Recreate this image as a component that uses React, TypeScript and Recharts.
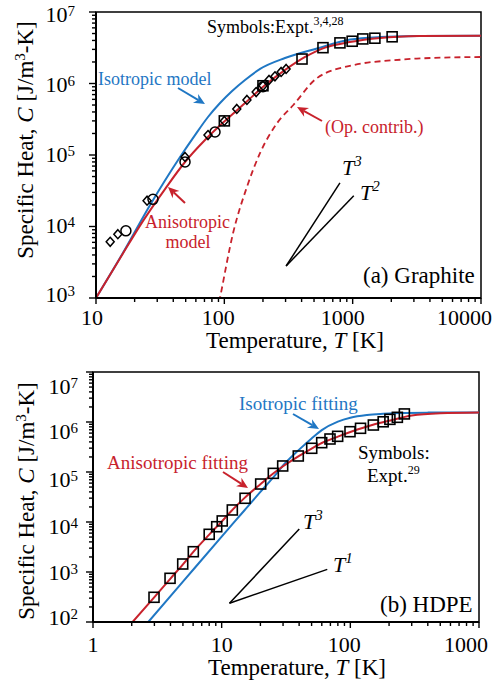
import React from 'react';
import { ComposedChart, Line, Scatter, XAxis, YAxis, ReferenceLine, ReferenceArea } from 'recharts';

const BLUE = '#1f77c4';
const RED = '#c8222c';
const SERIF = '"Liberation Serif", "Times New Roman", serif';

// ---- (a) Graphite ----
const grIsoT = [10, 16.2, 26.4, 45.2, 59.1, 74.6, 92.6, 115, 145, 190, 297, 528, 955, 1640, 3340, 10000];
const grIsoC = [1e3, 4.26e3, 2.0e4, 9.38e4, 1.9e5, 3.4e5, 5.33e5, 7.85e5, 1.12e6, 1.6e6, 2.27e6, 3.09e6, 4.12e6, 4.47e6, 4.61e6, 4.67e6];

const grAnisoT = [10, 15.4, 23.2, 34.5, 49.4, 70.7, 101, 145, 208, 298, 426, 609, 950, 1640, 3340, 10000];
const grAnisoC = [1e3, 3.6e3, 1.19e4, 3.34e4, 7.98e4, 1.62e5, 2.99e5, 5.33e5, 9.5e5, 1.55e6, 2.35e6, 3.18e6, 3.8e6, 4.33e6, 4.6e6, 4.67e6];

const grOpticalT = [88, 92.5, 117, 150, 190, 258, 345, 524, 1000, 2350, 3160, 10000];
const grOpticalC = [640, 1e3, 8.1e3, 3.57e4, 1.07e5, 2.8e5, 5.0e5, 1.18e6, 1.8e6, 2.15e6, 2.23e6, 2.35e6];

const grDiamondT = [12.9, 14.8, 25, 49.4, 74.6, 100, 125, 150, 177, 200, 223, 248, 277, 303];
const grDiamondC = [6.1e3, 7.8e3, 2.3e4, 9.4e4, 1.9e5, 3.0e5, 4.4e5, 5.9e5, 7.6e5, 9.3e5, 1.12e6, 1.26e6, 1.45e6, 1.6e6];
const grCircleT = [17.1, 27.8, 49.4, 84.6, 200];
const grCircleC = [8.7e3, 2.4e4, 8.0e4, 2.1e5, 9.0e5];
const grSquareT = [100, 200, 403, 587, 796, 991, 1200, 1490, 2030];
const grSquareC = [3.0e5, 9.3e5, 2.2e6, 3.17e6, 3.7e6, 3.9e6, 4.2e6, 4.3e6, 4.5e6];

// ---- (b) HDPE ----
const peIsoT = [2.69, 5, 10, 15, 20, 25, 30, 40, 50, 60, 80, 100, 135, 180, 250, 400, 1000];
const peIsoC = [100, 640, 5100, 1.7e4, 4.0e4, 7.6e4, 1.35e5, 2.8e5, 4.7e5, 6.9e5, 1.02e6, 1.22e6, 1.38e6, 1.46e6, 1.52e6, 1.54e6, 1.55e6];

const peAnisoT = [2.03, 3, 4, 5, 6, 8, 10, 12, 15, 20, 25, 30, 40, 50, 60, 80, 100, 150, 200, 300, 500, 1000];
const peAnisoC = [100, 315, 740, 1420, 2500, 5600, 1.02e4, 1.7e4, 3.0e4, 5.7e4, 9.2e4, 1.3e5, 2.1e5, 2.95e5, 3.8e5, 5.1e5, 6.3e5, 8.8e5, 1.06e6, 1.35e6, 1.5e6, 1.55e6];

const peExptT = [2.98, 3.97, 4.98, 6.02, 8.0, 9.15, 10.1, 12.1, 15.2, 20.1, 25.2, 29.8, 39.4, 50.1, 59.9, 69.5, 79.7, 99.4, 120, 151, 180, 203, 232, 263];
const peExptC = [312, 748, 1445, 2547, 5675, 8050, 1.05e4, 1.74e4, 2.98e4, 5.75e4, 9.4e4, 1.32e5, 2.09e5, 2.98e5, 3.86e5, 4.57e5, 5.17e5, 6.4e5, 7.48e5, 8.7e5, 1.01e6, 1.13e6, 1.24e6, 1.45e6];

// slope guide lines (T^3 / T^2, T^3 / T^1)
const grSlopeStart = { x: 303, y: 2800 };
const grSlopeEnds = [{ x: 796, y: 40700 }, { x: 1020, y: 27000 }];
const peSlopeStart = { x: 11.5, y: 237 };
const peSlopeEnds = [{ x: 40.1, y: 7240 }, { x: 66.2, y: 1130 }];

// hand-placed label nudges, as in the original figure
const grYLabelNudge = [0, 0, 0, -3, -0.5, 0, 1.5, 3]; // by exponent
const peYLabelNudge = [0, 0, -4, 1, 5, 8, 10, 15];
const grXLabelNudge = [0, -4, -6, -10, 0]; // by exponent
const peXLabelNudge = [0, 0, -6, 0];

const pts = (T: number[], C: number[]) => T.map((t, i) => ({ T: t, C: C[i] }));

function logTicks(lo: number, hi: number) {
  const out: number[] = [];
  for (let d = lo; d < hi; d *= 10) for (let k = 1; k < 10; k++) out.push(d * k);
  out.push(hi);
  return out;
}

const isMajor = (v: number) => {
  const e = Math.round(Math.log10(v));
  return Math.abs(v - 10 ** e) < 1e-6 * v;
};

const XTick = (props: any) => {
  const { x, y, payload, lastValue, lastDx, labelDy, nudge } = props;
  const v = payload.value;
  const major = isMajor(v);
  const isLast = v === lastValue;
  const e = Math.round(Math.log10(v));
  return (
    <g>
      <line x1={x} x2={x} y1={y} y2={y + (major ? 6 : 4)} stroke="#000" strokeWidth={1.4} />
      {major && (
        <text x={isLast ? x + lastDx : x + (nudge[e] || 0)} y={y + labelDy} textAnchor={isLast ? 'end' : 'middle'}
          fontFamily={SERIF} fontSize={22} fill="#000">{v}</text>
      )}
    </g>
  );
};

const YTick = (props: any) => {
  const { x, y, payload, labelDx, nudge } = props;
  const v = payload.value;
  const e = Math.round(Math.log10(v));
  const major = isMajor(v);
  return (
    <g>
      <line x1={x - (major ? 7 : 4)} x2={x} y1={y} y2={y} stroke="#000" strokeWidth={1.4} />
      {major && (
        <text x={x + labelDx} y={y + 7 + (nudge[e] || 0)} textAnchor="end" fontFamily={SERIF} fontSize={22} fill="#000">
          <tspan>10</tspan>
          <tspan dy={-6} fontSize={15}>{e}</tspan>
        </text>
      )}
    </g>
  );
};

const Diamond = (p: any) => (
  <polygon points={`${p.cx},${p.cy - 4.5} ${p.cx + 4},${p.cy} ${p.cx},${p.cy + 4.5} ${p.cx - 4},${p.cy}`}
    fill="none" stroke="#000" strokeWidth={1.5} />
);
const Ring = (p: any) => <circle cx={p.cx} cy={p.cy} r={5} fill="none" stroke="#000" strokeWidth={1.5} />;
const Box = (p: any) => (
  <rect x={p.cx - 5} y={p.cy - 5} width={10} height={10} fill="none" stroke="#000" strokeWidth={1.6} />
);

const Arrow = ({ x1, y1, x2, y2, color }: any) => {
  const a = Math.atan2(y2 - y1, x2 - x1);
  const L = 11, W = 5;
  const c = Math.cos(a), s = Math.sin(a);
  const bx = x2 - L * c, by = y2 - L * s;
  const nx = x2 - L * 0.7 * c, ny = y2 - L * 0.7 * s;
  const head = `${x2},${y2} ${bx + W * s},${by - W * c} ${nx},${ny} ${bx - W * s},${by + W * c}`;
  return (
    <g>
      <line x1={x1} y1={y1} x2={nx} y2={ny} stroke={color} strokeWidth={2} />
      <polygon points={head} fill={color} />
    </g>
  );
};

const axisLine = { stroke: '#000', strokeWidth: 2 };

function GraphiteChart() {
  return (
    <ComposedChart width={500} height={340} margin={{ top: 12, right: 19, bottom: 0, left: 0 }}>
      <XAxis type="number" dataKey="T" scale="log" domain={[10, 10000]} allowDataOverflow
        ticks={logTicks(10, 10000)} interval={0} tickLine={false} tickSize={0} tickMargin={0}
        axisLine={axisLine} height={42}
        tick={(p: any) => <XTick {...p} lastValue={10000} lastDx={11} labelDy={27} nudge={grXLabelNudge} />} />
      <YAxis type="number" dataKey="C" scale="log" domain={[1e3, 1e7]} allowDataOverflow
        ticks={logTicks(1e3, 1e7)} interval={0} tickLine={false} tickSize={0} tickMargin={0}
        axisLine={axisLine} width={96}
        tick={(p: any) => <YTick {...p} labelDx={-21} nudge={grYLabelNudge} />} />
      <ReferenceArea x1={10} x2={10000} y1={1e3} y2={1e7} fill="none" stroke="#000" strokeWidth={1.5} />
      <ReferenceLine segment={[grSlopeStart, grSlopeEnds[0]]} stroke="#000" strokeWidth={1.5} />
      <ReferenceLine segment={[grSlopeStart, grSlopeEnds[1]]} stroke="#000" strokeWidth={1.5} />
      <Line data={pts(grOpticalT, grOpticalC)} dataKey="C" type="monotone" stroke={RED} strokeWidth={1.8}
        strokeDasharray="6 4" dot={false} isAnimationActive={false} />
      <Line data={pts(grIsoT, grIsoC)} dataKey="C" type="monotone" stroke={BLUE} strokeWidth={2}
        dot={false} isAnimationActive={false} />
      <Line data={pts(grAnisoT, grAnisoC)} dataKey="C" type="monotone" stroke={RED} strokeWidth={2}
        dot={false} isAnimationActive={false} />
      <Scatter data={pts(grDiamondT, grDiamondC)} dataKey="C" shape={Diamond} isAnimationActive={false} />
      <Scatter data={pts(grCircleT, grCircleC)} dataKey="C" shape={Ring} isAnimationActive={false} />
      <Scatter data={pts(grSquareT, grSquareC)} dataKey="C" shape={Box} isAnimationActive={false} />
    </ComposedChart>
  );
}

function HdpeChart() {
  return (
    <ComposedChart width={500} height={343} margin={{ top: 32, right: 21, bottom: 0, left: 0 }}>
      <XAxis type="number" dataKey="T" scale="log" domain={[1, 1000]} allowDataOverflow
        ticks={logTicks(1, 1000)} interval={0} tickLine={false} tickSize={0} tickMargin={0}
        axisLine={axisLine} height={61}
        tick={(p: any) => <XTick {...p} lastValue={1000} lastDx={9} labelDy={30} nudge={peXLabelNudge} />} />
      <YAxis type="number" dataKey="C" scale="log" domain={[1e2, 1e7]} allowDataOverflow
        ticks={logTicks(1e2, 1e7)} interval={0} tickLine={false} tickSize={0} tickMargin={0}
        axisLine={axisLine} width={93}
        tick={(p: any) => <YTick {...p} labelDx={-15} nudge={peYLabelNudge} />} />
      <ReferenceArea x1={1} x2={1000} y1={1e2} y2={1e7} fill="none" stroke="#000" strokeWidth={1.5} />
      <ReferenceLine segment={[peSlopeStart, peSlopeEnds[0]]} stroke="#000" strokeWidth={1.5} />
      <ReferenceLine segment={[peSlopeStart, peSlopeEnds[1]]} stroke="#000" strokeWidth={1.5} />
      <Line data={pts(peIsoT, peIsoC)} dataKey="C" type="monotone" stroke={BLUE} strokeWidth={2}
        dot={false} isAnimationActive={false} />
      <Line data={pts(peAnisoT, peAnisoC)} dataKey="C" type="monotone" stroke={RED} strokeWidth={2}
        dot={false} isAnimationActive={false} />
      <Scatter data={pts(peExptT, peExptC)} dataKey="C" shape={Box} isAnimationActive={false} />
    </ComposedChart>
  );
}

function YTitle({ x, y }: { x: number; y: number }) {
  return (
    <text x={x} y={y} transform={`rotate(-90 ${x} ${y})`} textAnchor="middle" fontFamily={SERIF} fontSize={23} fill="#000">
      <tspan>Specific Heat, </tspan>
      <tspan fontStyle="italic">C</tspan>
      <tspan> [J/m</tspan>
      <tspan dy={-8} fontSize={15}>3</tspan>
      <tspan dy={8}>-K]</tspan>
    </text>
  );
}

function XTitle({ x, y }: { x: number; y: number }) {
  return (
    <text x={x} y={y} textAnchor="middle" fontFamily={SERIF} fontSize={23} fill="#000">
      <tspan>Temperature, </tspan>
      <tspan fontStyle="italic">T</tspan>
      <tspan> [K]</tspan>
    </text>
  );
}

function Power({ x, y, n }: { x: number; y: number; n: string }) {
  return (
    <text x={x} y={y} fontFamily={SERIF} fontSize={22} fontStyle="italic" fill="#000">
      <tspan>T</tspan>
      <tspan dy={-9} fontSize={15}>{n}</tspan>
    </text>
  );
}

function Note({ x, y, size, color, children, anchor }: any) {
  return (
    <text x={x} y={y} fontFamily={SERIF} fontSize={size} fill={color || '#000'} textAnchor={anchor || 'start'}>
      {children}
    </text>
  );
}

export default function App() {
  return (
    <div style={{ position: 'absolute', left: 0, top: 0, width: 500, height: 683, background: '#fff' }}>
      <div style={{ position: 'absolute', left: 0, top: 0 }}>
        <GraphiteChart />
      </div>
      <div style={{ position: 'absolute', left: 0, top: 340 }}>
        <HdpeChart />
      </div>
      <svg width={500} height={683} style={{ position: 'absolute', left: 0, top: 0, pointerEvents: 'none' }}>
        {/* panel (a) */}
        <YTitle x={33} y={140} />
        <XTitle x={295} y={348} />
        <Note x={207} y={33} size={18}>
          <tspan>Symbols:Expt.</tspan>
          <tspan dy={-8} fontSize={12}>3,4,28</tspan>
        </Note>
        <Note x={98} y={85} size={18} color={BLUE}>Isotropic model</Note>
        <Arrow x1={178} y1={88} x2={205} y2={104} color={BLUE} />
        <Note x={325} y={133} size={18} color={RED}>(Op. contrib.)</Note>
        <Arrow x1={322} y1={121} x2={297} y2={107} color={RED} />
        <Note x={145} y={228} size={18} color={RED}>Anisotropic</Note>
        <Note x={188} y={248} size={18} color={RED} anchor="middle">model</Note>
        <Arrow x1={185} y1={203} x2={168} y2={187} color={RED} />
        <Power x={342} y={175} n="3" />
        <Power x={360} y={200} n="2" />
        <Note x={363} y={283} size={23}>(a) Graphite</Note>

        {/* panel (b) */}
        <YTitle x={34} y={501} />
        <XTitle x={297} y={675} />
        <Note x={239} y={410} size={19} color={BLUE}>Isotropic fitting</Note>
        <Arrow x1={293} y1={414} x2={319} y2={429} color={BLUE} />
        <Note x={107} y={469} size={19} color={RED}>Anisotropic fitting</Note>
        <Arrow x1={223} y1={472} x2={248} y2={488} color={RED} />
        <Note x={358} y={459} size={19}>Symbols:</Note>
        <Note x={367} y={482} size={19}>
          <tspan>Expt.</tspan>
          <tspan dy={-8} fontSize={12}>29</tspan>
        </Note>
        <Power x={303} y={529} n="3" />
        <Power x={333} y={572} n="1" />
        <Note x={380} y={612} size={23}>(b) HDPE</Note>
      </svg>
    </div>
  );
}
